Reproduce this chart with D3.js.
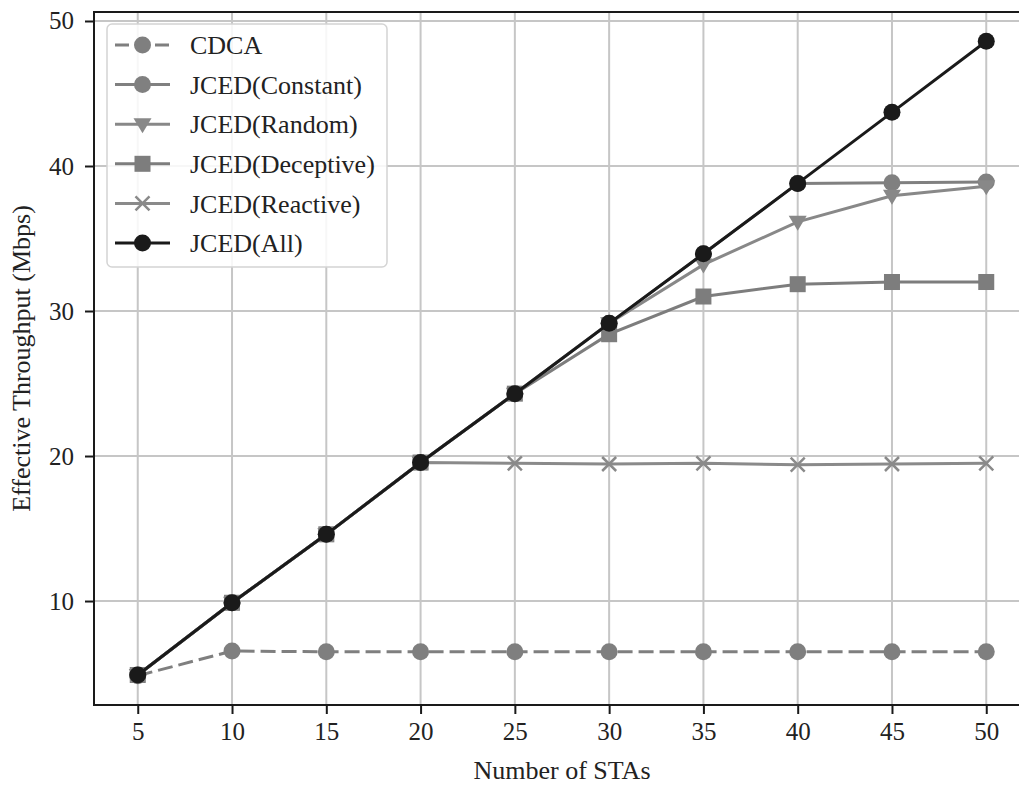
<!DOCTYPE html>
<html>
<head>
<meta charset="utf-8">
<script src="https://cdn.jsdelivr.net/npm/d3@7"></script>
<style>
  html, body { margin: 0; padding: 0; background: #fff; overflow: hidden; }
  svg { display: block; }
  text { font-family: "Liberation Serif", "Times New Roman", serif; fill: #222; }
</style>
</head>
<body>
<svg id="chart" width="1019" height="786"></svg>
<script>
// Number of stations on the x axis
const stations = [5, 10, 15, 20, 25, 30, 35, 40, 45, 50];

// Effective throughput (Mbps) per scheme
const cdca      = [4.85, 6.55, 6.5, 6.5, 6.5, 6.5, 6.5, 6.5, 6.5, 6.5];
const constant  = [4.9, 9.88, 14.6, 19.55, 24.3, 29.15, 33.95, 38.8, 38.85, 38.9];
const randomJ   = [4.9, 9.88, 14.6, 19.55, 24.3, 29.15, 33.2, 36.15, 37.95, 38.6];
const deceptive = [4.9, 9.88, 14.6, 19.55, 24.3, 28.4, 31.0, 31.85, 32.0, 32.0];
const reactive  = [4.9, 9.88, 14.6, 19.55, 19.5, 19.45, 19.5, 19.4, 19.45, 19.5];
const allJ      = [4.9, 9.88, 14.6, 19.55, 24.3, 29.15, 33.95, 38.8, 43.7, 48.6];

const seriesNames = ["CDCA", "JCED(Constant)", "JCED(Random)", "JCED(Deceptive)", "JCED(Reactive)", "JCED(All)"];
const xTicks = [5, 10, 15, 20, 25, 30, 35, 40, 45, 50];
const yTicks = [10, 20, 30, 40, 50];

const styles = {
  "CDCA":            { color: "#7f7f7f", dash: "15,6", marker: "circle" },
  "JCED(Constant)":  { color: "#808080", dash: null,   marker: "circle" },
  "JCED(Random)":    { color: "#888888", dash: null,   marker: "triangle" },
  "JCED(Deceptive)": { color: "#7d7d7d", dash: null,   marker: "square" },
  "JCED(Reactive)":  { color: "#8a8a8a", dash: null,   marker: "cross" },
  "JCED(All)":       { color: "#1a1a1a", dash: null,   marker: "circle" }
};
const valuesByName = {
  "CDCA": cdca, "JCED(Constant)": constant, "JCED(Random)": randomJ,
  "JCED(Deceptive)": deceptive, "JCED(Reactive)": reactive, "JCED(All)": allJ
};

const svg = d3.select("#chart");
const plotLeft = 94, plotTop = 12, plotBottom = 705, plotRight = 1030;

const x = d3.scaleLinear().domain([2.68, 52.32]).range([plotLeft, plotRight]);
const y = d3.scaleLinear().domain([2.83, 50.62]).range([plotBottom, plotTop]);

// grid
const grid = svg.append("g");
grid.selectAll("line.gx").data(xTicks).join("line")
  .attr("x1", d => x(d)).attr("x2", d => x(d))
  .attr("y1", plotTop).attr("y2", plotBottom)
  .attr("stroke", "#c6c6c6").attr("stroke-width", 2);
grid.selectAll("line.gy").data(yTicks).join("line")
  .attr("x1", plotLeft).attr("x2", plotRight)
  .attr("y1", d => y(d)).attr("y2", d => y(d))
  .attr("stroke", "#c6c6c6").attr("stroke-width", 2);

// markers
function drawMarker(g, type, cx, cy, color) {
  if (type === "circle") {
    g.append("circle").attr("cx", cx).attr("cy", cy).attr("r", 8.5).attr("fill", color);
  } else if (type === "square") {
    g.append("rect").attr("x", cx - 8).attr("y", cy - 8).attr("width", 16).attr("height", 16).attr("fill", color);
  } else if (type === "triangle") {
    g.append("path").attr("d", `M${cx - 9},${cy - 6} L${cx + 9},${cy - 6} L${cx},${cy + 9} Z`).attr("fill", color);
  } else if (type === "cross") {
    g.append("path").attr("d", `M${cx - 7},${cy - 7} L${cx + 7},${cy + 7} M${cx - 7},${cy + 7} L${cx + 7},${cy - 7}`)
      .attr("stroke", color).attr("stroke-width", 2.5).attr("fill", "none");
  }
}

const line = d3.line().x((d, i) => x(stations[i])).y(d => y(d));
const plot = svg.append("g");
seriesNames.forEach(name => {
  const st = styles[name];
  const vals = valuesByName[name];
  const g = plot.append("g");
  g.append("path").datum(vals).attr("d", line)
    .attr("fill", "none").attr("stroke", st.color).attr("stroke-width", 3)
    .attr("stroke-dasharray", st.dash);
  vals.forEach((v, i) => drawMarker(g, st.marker, x(stations[i]), y(v), st.color));
});

// spines
svg.append("line").attr("x1", plotLeft).attr("x2", plotLeft).attr("y1", plotTop).attr("y2", plotBottom)
  .attr("stroke", "#1a1a1a").attr("stroke-width", 2);
svg.append("line").attr("x1", plotLeft - 1).attr("x2", plotRight).attr("y1", plotBottom).attr("y2", plotBottom)
  .attr("stroke", "#1a1a1a").attr("stroke-width", 2);
svg.append("line").attr("x1", plotLeft - 1).attr("x2", plotRight).attr("y1", plotTop).attr("y2", plotTop)
  .attr("stroke", "#1a1a1a").attr("stroke-width", 2);

// axes
const xAxis = d3.axisBottom(x).tickValues(xTicks).tickSize(9).tickPadding(8);
const gx = svg.append("g").attr("transform", `translate(0,${plotBottom})`).call(xAxis);
gx.select(".domain").remove();
gx.selectAll(".tick line").attr("stroke", "#1a1a1a").attr("stroke-width", 2);
gx.selectAll(".tick text").style("font-size", "25px").attr("fill", "#222");

const yAxis = d3.axisLeft(y).tickValues(yTicks).tickSize(9).tickPadding(11);
const gy = svg.append("g").attr("transform", `translate(${plotLeft},0)`).call(yAxis);
gy.select(".domain").remove();
gy.selectAll(".tick line").attr("stroke", "#1a1a1a").attr("stroke-width", 2);
gy.selectAll(".tick text").style("font-size", "25px").attr("fill", "#222");

// axis titles
svg.append("text").attr("x", x(27.5)).attr("y", 779).attr("text-anchor", "middle")
  .style("font-size", "26px").text("Number of STAs");
svg.append("text").attr("transform", `translate(30,${(plotTop + plotBottom) / 2}) rotate(-90)`)
  .attr("text-anchor", "middle").style("font-size", "26px").text("Effective Throughput (Mbps)");

// legend
const lg = svg.append("g");
lg.append("rect").attr("x", 107).attr("y", 24).attr("width", 280).attr("height", 243)
  .attr("rx", 5).attr("fill", "#fff").attr("fill-opacity", 0.85)
  .attr("stroke", "#d4d4d4").attr("stroke-width", 1.5);
seriesNames.forEach((name, i) => {
  const st = styles[name];
  const cy = 45 + i * 39.6;
  const g = lg.append("g");
  g.append("line").attr("x1", 115).attr("x2", 170).attr("y1", cy).attr("y2", cy)
    .attr("stroke", st.color).attr("stroke-width", 3).attr("stroke-dasharray", st.dash ? "14,6" : null);
  drawMarker(g, st.marker, 142.5, cy, st.color);
  g.append("text").attr("x", 190).attr("y", cy).attr("dy", "0.35em")
    .style("font-size", "26px").text(name);
});
</script>
</body>
</html>
